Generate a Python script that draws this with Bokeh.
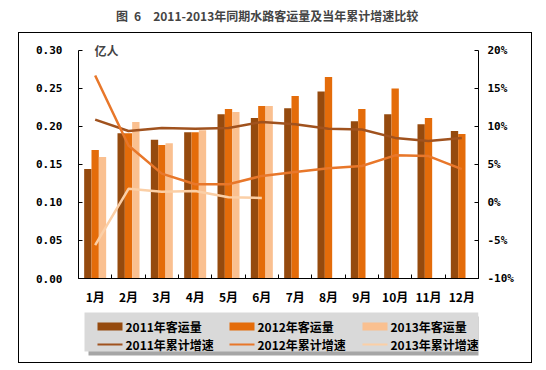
from bokeh.plotting import figure
from bokeh.layouts import column
from bokeh.models import (Range1d, LinearAxis, FixedTicker, PrintfTickFormatter, Label)
from bokeh.core.properties import value
from bokeh.embed import file_html
from bokeh.resources import INLINE

months = ["1月", "2月", "3月", "4月", "5月", "6月", "7月", "8月", "9月", "10月", "11月", "12月"]
vol_2011 = [0.144, 0.191, 0.1825, 0.1925, 0.216, 0.211, 0.224, 0.246, 0.207, 0.216, 0.203, 0.194]
vol_2012 = [0.169, 0.191, 0.1755, 0.1925, 0.223, 0.227, 0.240, 0.265, 0.223, 0.250, 0.211, 0.190]
vol_2013 = [0.160, 0.206, 0.178, 0.195, 0.219, 0.227]
grw_2011 = [10.9, 9.4, 9.8, 9.7, 9.8, 10.6, 10.3, 9.7, 9.6, 8.5, 8.1, 8.5]
grw_2012 = [16.7, 7.5, 3.8, 2.4, 2.4, 3.5, 4.0, 4.5, 4.8, 6.2, 6.1, 4.4]
grw_2013 = [-5.6, 1.8, 1.4, 1.5, 0.7, 0.6]
left_ticks = [0.0, 0.05, 0.10, 0.15, 0.20, 0.25, 0.30]
right_ticks = [-10, -5, 0, 5, 10, 15, 20]

title_text = "图\u20026\u30002011-2013年同期水路客运量及当年累计增速比较"
unit_text = "亿人"
bar_names = ["2011年客运量", "2012年客运量", "2013年客运量"]
line_names = ["2011年累计增速", "2012年累计增速", "2013年累计增速"]

C11 = "#954A0E"
C12 = "#E46C0A"
C13 = "#FAC090"
L11 = "#A0521E"
L12 = "#E8772A"
L13 = "#FBCFA6"
bar_colors = [C11, C12, C13]
line_colors = [L11, L12, L13]

TICK_FONT = "DejaVu Sans Mono"
CJK = "Noto Sans CJK SC"

# ---------- title strip ----------
tfig = figure(width=530, height=25, output_backend="svg", toolbar_location=None,
              x_range=Range1d(0, 1), y_range=Range1d(0, 1),
              x_axis_location=None, y_axis_location=None,
              min_border=0, outline_line_color=None)
tfig.grid.visible = False
tfig.add_layout(Label(x=0.49, y=0.68, text=title_text, text_font=CJK,
                      text_font_style="bold", text_font_size="12px",
                      text_align="center", text_baseline="middle"))

# ---------- main chart ----------
L_TOP = 0.30
R_TOP = 20
ext_px = 7
frame_h = 229
BL, BR = 59, 53
PW = 512
p = figure(width=PW, height=274, output_backend="svg", toolbar_location=None,
           x_range=Range1d(0, 12),
           y_range=Range1d(0, L_TOP + ext_px * L_TOP / frame_h),
           min_border_left=BL, min_border_right=BR, min_border_top=10, min_border_bottom=28,
           outline_line_color=None, background_fill_color="white", border_fill_color="white")
p.grid.visible = False

n = len(months)
centers = [i + 0.5 for i in range(n)]
bounds = [float(i) for i in range(n + 1)]
bw = 0.22

ya = p.yaxis[0]
ya.ticker = FixedTicker(ticks=left_ticks)
ya.formatter = PrintfTickFormatter(format="%.2f")
ya.bounds = (0, L_TOP)
ya.major_tick_in = 4
ya.major_tick_out = 0
ya.minor_tick_line_color = None
ya.axis_line_color = "black"
ya.major_label_standoff = 16
ya.major_label_text_font = TICK_FONT
ya.major_label_text_font_style = "bold"
ya.major_label_text_font_size = "11px"
ya.major_label_text_color = "black"

xa = p.xaxis[0]
xa.ticker = FixedTicker(ticks=centers, minor_ticks=bounds)
xa.major_label_overrides = {c: m for c, m in zip(centers, months)}
xa.major_tick_in = 0
xa.major_tick_out = 0
xa.minor_tick_in = 4
xa.minor_tick_out = 0
xa.minor_tick_line_color = "black"
xa.axis_line_color = "black"
xa.major_label_standoff = 9
xa.major_label_text_font = CJK
xa.major_label_text_font_style = "bold"
xa.major_label_text_font_size = "12px"
xa.major_label_text_color = "black"

p.extra_y_ranges = {"pct": Range1d(-10, R_TOP + ext_px * 30 / frame_h)}
ra = LinearAxis(y_range_name="pct", ticker=FixedTicker(ticks=right_ticks),
                formatter=PrintfTickFormatter(format="%d%%"))
ra.bounds = (-10, R_TOP)
ra.major_tick_in = 4
ra.major_tick_out = 0
ra.minor_tick_line_color = None
ra.axis_line_color = "black"
ra.major_label_standoff = 9
ra.major_label_text_font = TICK_FONT
ra.major_label_text_font_style = "bold"
ra.major_label_text_font_size = "11px"
ra.major_label_text_color = "black"
p.add_layout(ra, "right")

p.vbar(x=[c - bw for c in centers], top=vol_2011, width=bw, fill_color=C11, line_color=None)
p.vbar(x=centers, top=vol_2012, width=bw, fill_color=C12, line_color=None)
p.vbar(x=[c + bw for c in centers[:len(vol_2013)]], top=vol_2013, width=bw,
       fill_color=C13, line_color=None)

p.line(x=centers, y=grw_2011, y_range_name="pct", line_color=L11, line_width=2.5)
p.line(x=centers, y=grw_2012, y_range_name="pct", line_color=L12, line_width=2.5)
p.line(x=centers[:len(grw_2013)], y=grw_2013, y_range_name="pct", line_color=L13, line_width=2.5)

p.add_layout(Label(x=0.48, y=L_TOP, text=unit_text, text_font=CJK, text_font_style="bold",
                   text_font_size="12px", text_baseline="middle", text_align="left"))

# ---------- legend strip (canvas pixel coordinates; frame aligned with chart) ----------
LH = 55
lfig = figure(width=PW, height=LH, output_backend="svg", toolbar_location=None,
              x_range=Range1d(BL, PW - BR), y_range=Range1d(LH, 0),
              x_axis_location=None, y_axis_location=None,
              min_border_left=BL, min_border_right=BR, min_border_top=0, min_border_bottom=0,
              outline_line_color=None, border_fill_color="white")
lfig.grid.visible = False
box_l, box_t, box_r, box_b = 65, 5, 459, 44
lfig.quad(left=[box_l + 4], right=[box_r + 4], top=[box_t + 4], bottom=[box_b + 4],
          fill_color="#A6A6A6", line_color=None)
lfig.quad(left=[box_l], right=[box_r], top=[box_t], bottom=[box_b],
          fill_color="#D9D9D9", line_color=None)
col_x = [78, 210, 343]
row_y = [19, 37]
sw_w, sw_h = 25, 8
lfig.quad(left=col_x, right=[x + sw_w for x in col_x],
          top=[row_y[0] - sw_h / 2] * 3, bottom=[row_y[0] + sw_h / 2] * 3,
          fill_color=bar_colors, line_color=None)
lfig.segment(x0=col_x, x1=[x + sw_w for x in col_x], y0=[row_y[1]] * 3, y1=[row_y[1]] * 3,
             line_color=line_colors, line_width=2)
lfig.text(x=[x + sw_w + 3 for x in col_x] * 2, y=[row_y[0]] * 3 + [row_y[1]] * 3,
          text=bar_names + line_names, text_font=value(CJK), text_font_style="bold",
          text_font_size="12px", text_color="black", text_baseline="middle", text_align="left")

box = column(p, lfig, spacing=0, styles={"border": "1px solid black"}, margin=(0, 0, 0, 11))
layout = column(tfig, box, spacing=0, margin=(7, 0, 0, 7))
open("out.html", "w").write(file_html(layout, INLINE))
